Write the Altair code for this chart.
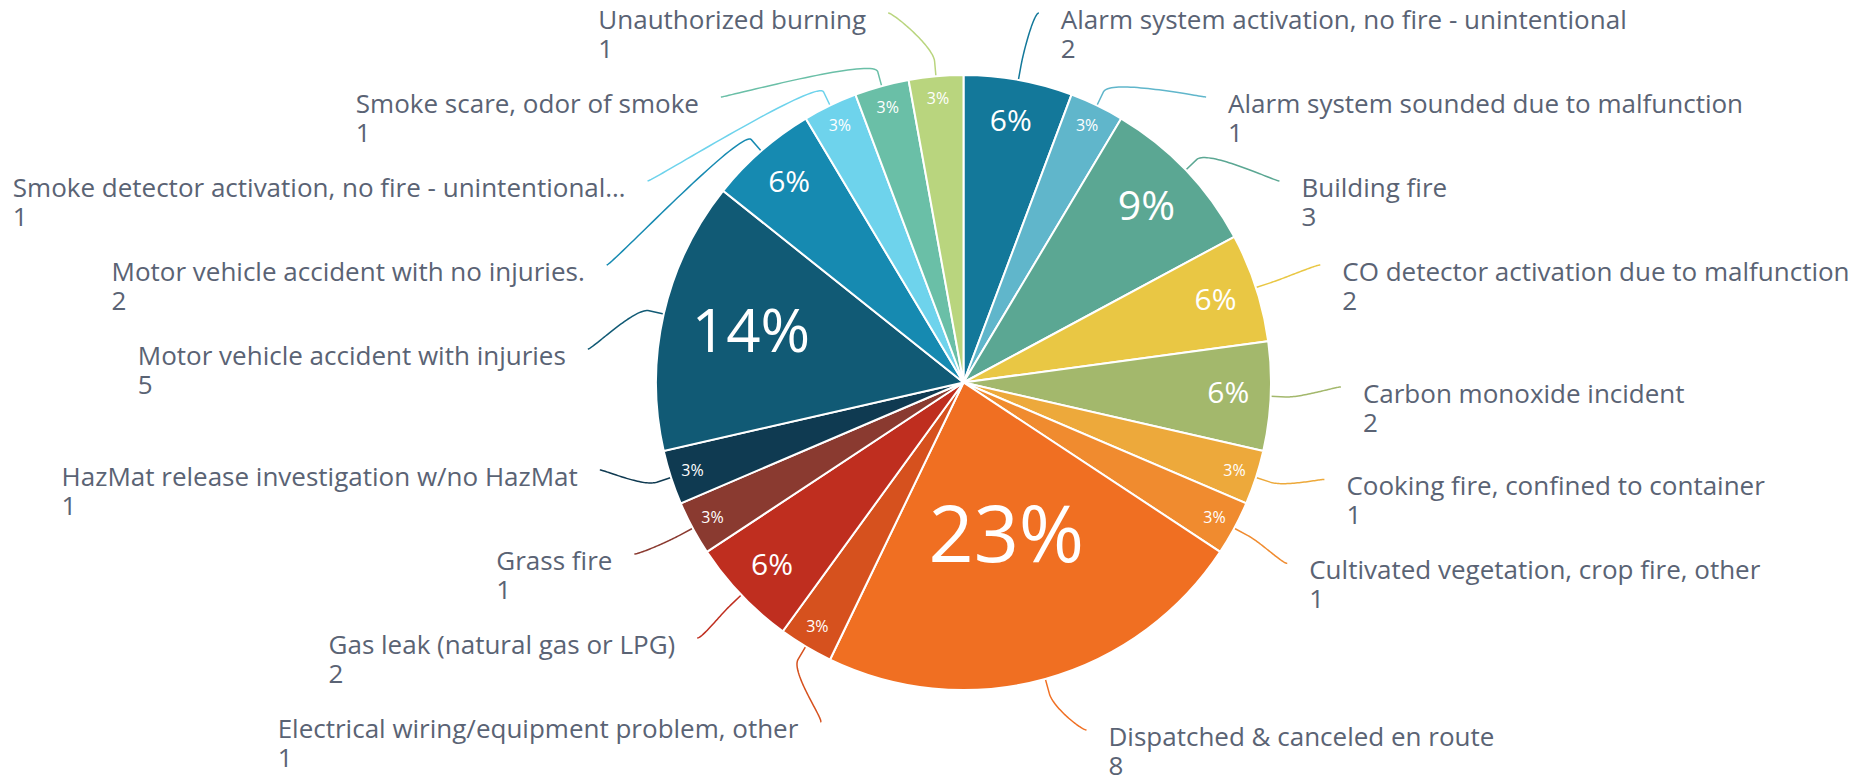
import math
import struct
import subprocess

import altair as alt
import pandas as pd

# ---------------- data ----------------
names = [
    "Alarm system activation, no fire - unintentional",
    "Alarm system sounded due to malfunction",
    "Building fire",
    "CO detector activation due to malfunction",
    "Carbon monoxide incident",
    "Cooking fire, confined to container",
    "Cultivated vegetation, crop fire, other",
    "Dispatched & canceled en route",
    "Electrical wiring/equipment problem, other",
    "Gas leak (natural gas or LPG)",
    "Grass fire",
    "HazMat release investigation w/no HazMat",
    "Motor vehicle accident with injuries",
    "Motor vehicle accident with no injuries.",
    "Smoke detector activation, no fire - unintentional\u2026",
    "Smoke scare, odor of smoke",
    "Unauthorized burning",
]
counts = [2, 1, 3, 2, 2, 1, 1, 8, 1, 2, 1, 1, 5, 2, 1, 1, 1]
colors = [
    "#13789a", "#60b6cb", "#5ba793", "#e9c744", "#a3b86c", "#eda93b",
    "#f08b2f", "#f06f22", "#d6511e", "#bf2e1f", "#8a3a30", "#0f3a51",
    "#115a75", "#168ab1", "#6ed3ec", "#6abfa7", "#b9d57e",
]

# ---------------- layout / style ----------------
W, H = 1859, 767
CX, CY = 955.5, 374.5
R = 307.5
LABEL_R = 388.0
BOX = 84
LO, HI = -16, 785
FONT = "Open Sans"
FONT_SIZE = 26
TEXT_COLOR = "#5a6374"


def _fallback_measure():
    table = {" ": 532, ",": 502, "-": 659, ".": 545, "/": 752, "&": 1499, "(": 573, ")": 573,
             "\u2026": 1636}
    up = dict(zip("ABCDEFGHIJKLMNOPQRSTUVWXYZ",
                  [1296, 1327, 1292, 1493, 1139, 1057, 1491, 1511, 571, 547, 1257, 1063, 1849,
                   1544, 1595, 1233, 1595, 1266, 1124, 1133, 1491, 1219, 1896, 1182, 1147, 1169]))
    lo = dict(zip("abcdefghijklmnopqrstuvwxyz",
                  [1139, 1255, 975, 1255, 1149, 694, 1122, 1257, 518, 518, 1075, 518, 1905,
                   1257, 1237, 1255, 1255, 836, 977, 723, 1257, 1026, 1593, 1073, 1028, 977]))
    table.update(up)
    table.update(lo)
    return lambda s: sum(table.get(ch, 1171) for ch in s) / 2048 * FONT_SIZE


def _ttf_measure(path):
    data = open(path, "rb").read()
    u16 = lambda o: struct.unpack(">H", data[o:o + 2])[0]
    u32 = lambda o: struct.unpack(">I", data[o:o + 4])[0]
    ntab = u16(4)
    tabs = {}
    for i in range(ntab):
        o = 12 + 16 * i
        tabs[data[o:o + 4].decode("latin1")] = u32(o + 8)
    upem = u16(tabs["head"] + 18)
    nhm = u16(tabs["hhea"] + 34)
    hmtx = tabs["hmtx"]
    cmap = tabs["cmap"]
    nsub = u16(cmap + 2)
    sub4 = sub12 = None
    for i in range(nsub):
        o = cmap + 4 + 8 * i
        pid, eid, off = u16(o), u16(o + 2), u32(o + 4)
        fmt = u16(cmap + off)
        if fmt == 12:
            sub12 = cmap + off
        elif fmt == 4 and pid in (0, 3):
            sub4 = cmap + off

    def gid(c):
        if sub12 is not None:
            n = u32(sub12 + 12)
            for k in range(n):
                o = sub12 + 16 + 12 * k
                s, e, g = u32(o), u32(o + 4), u32(o + 8)
                if s <= c <= e:
                    return g + c - s
            return 0
        off = sub4
        segx2 = u16(off + 6)
        ends = off + 14
        starts = ends + segx2 + 2
        deltas = starts + segx2
        ranges = deltas + segx2
        for k in range(segx2 // 2):
            e = u16(ends + 2 * k)
            if c <= e:
                s = u16(starts + 2 * k)
                if c < s:
                    return 0
                d = u16(deltas + 2 * k)
                ro = u16(ranges + 2 * k)
                if ro == 0:
                    return (c + d) & 0xFFFF
                g = u16(ranges + 2 * k + ro + 2 * (c - s))
                return (g + d) & 0xFFFF if g else 0
        return 0

    def adv(g):
        g = min(g, nhm - 1)
        return u16(hmtx + 4 * g)

    return lambda s: sum(adv(gid(ord(ch))) for ch in s) / upem * FONT_SIZE


def make_measure():
    path = ""
    try:
        path = subprocess.run(["fc-match", "-f", "%{file}", "Open Sans:style=Regular"],
                              capture_output=True, text=True, timeout=10).stdout.strip()
    except Exception:
        path = ""
    if path:
        try:
            from PIL import ImageFont
            f = ImageFont.truetype(path, FONT_SIZE)
            return f.getlength
        except Exception:
            pass
        try:
            m = _ttf_measure(path)
            m("Test")
            return m
        except Exception:
            pass
    return _fallback_measure()


measure = make_measure()


def distribute(items):
    groups = [{"keys": [k], "targets": [t], "size": BOX} for k, t in items]

    def place(g):
        t = (min(g["targets"]) + max(g["targets"])) / 2
        g["pos"] = min(max(t - g["size"] / 2, LO), HI - g["size"])

    for g in groups:
        place(g)
    changed = True
    while changed:
        changed = False
        i = len(groups) - 1
        while i > 0:
            a, b = groups[i - 1], groups[i]
            if a["pos"] + a["size"] > b["pos"] + 1e-9:
                a["keys"] += b["keys"]
                a["targets"] += b["targets"]
                a["size"] += b["size"]
                groups.pop(i)
                place(a)
                changed = True
            i -= 1
    out = {}
    for g in groups:
        for j, k in enumerate(g["keys"]):
            out[k] = g["pos"] + BOX * (j + 0.5)
    return out


total = sum(counts)
info = []
cum = 0.0
for i, (n, c) in enumerate(zip(names, counts)):
    a = (cum + c / 2) / total * 2 * math.pi
    cum += c
    info.append({"idx": i, "name": n, "count": c, "ang": a,
                 "right": a < math.pi, "target": CY + 8 - LABEL_R * math.cos(a)})

ycs = {}
for side in (True, False):
    items = sorted([(d["idx"], d["target"]) for d in info if d["right"] == side],
                   key=lambda t: t[1])
    ycs.update(distribute(items))

lab_rows, conn_rows = [], []
for d in info:
    yc = ycs[d["idx"]]
    yx = yc - 30 if yc < CY else yc - 4
    dx = math.sqrt(max(LABEL_R ** 2 - (yx - CY) ** 2, 0.0))
    if d["right"]:
        edge = CX + dx + 12
        tx = edge
        cx_, c1x = edge - 22, edge - 27
    else:
        edge = CX - dx - 12
        tx = edge - measure(d["name"])
        cx_, c1x = edge + 22, edge + 27
    cy_ = yc - 21
    lab_rows.append({"name": d["name"], "count": str(d["count"]), "tx": tx,
                     "ny": yc - 5, "cy2": yc + 24})
    s, co = math.sin(d["ang"]), math.cos(d["ang"])
    pts = [(CX + R * s, CY - R * co)]
    p0 = (CX + (R + 15) * s, CY - (R + 15) * co)
    p1 = (CX + (R + 30) * s, CY - (R + 30) * co)
    p2 = (c1x, cy_)
    p3 = (cx_, cy_)
    steps = 40
    for k in range(steps + 1):
        t = k / steps
        mt = 1 - t
        px = mt ** 3 * p0[0] + 3 * mt ** 2 * t * p1[0] + 3 * mt * t ** 2 * p2[0] + t ** 3 * p3[0]
        py = mt ** 3 * p0[1] + 3 * mt ** 2 * t * p1[1] + 3 * mt * t ** 2 * p2[1] + t ** 3 * p3[1]
        pts.append((px, py))
    for k, (px, py) in enumerate(pts):
        conn_rows.append({"name": d["name"], "seq": k, "px": px, "py": py})

df = pd.DataFrame({"idx": list(range(len(names))), "name": names, "count": counts})
labels = pd.DataFrame(lab_rows)
conns = pd.DataFrame(conn_rows)

color_scale = alt.Scale(domain=names, range=colors)
xs = alt.Scale(domain=[0, W], range=[0, W], nice=False, zero=False)
ys = alt.Scale(domain=[0, H], range=[0, H], nice=False, zero=False)

connectors = alt.Chart(conns).mark_line(strokeWidth=1.5).encode(
    x=alt.X("px:Q", scale=xs, axis=None),
    y=alt.Y("py:Q", scale=ys, axis=None),
    color=alt.Color("name:N", scale=color_scale, legend=None),
    detail="name:N",
    order=alt.Order("seq:Q"),
)

arcs = alt.Chart(df).mark_arc(outerRadius=R, stroke="white", strokeWidth=2).encode(
    x=alt.value(CX),
    y=alt.value(CY),
    theta=alt.Theta("count:Q", stack=True),
    color=alt.Color("name:N", scale=color_scale, legend=None),
    order=alt.Order("idx:Q"),
)

pct = alt.Chart(df).transform_joinaggregate(
    total="sum(count)"
).transform_window(
    cum="sum(count)", sort=[alt.SortField("idx", order="ascending")], frame=[None, 0]
).transform_calculate(
    mid="datum.cum - datum.count / 2",
    pct="format(datum.count / datum.total, '.0%')",
).mark_text(font=FONT, color="white", align="center", baseline="middle").encode(
    x=alt.value(CX),
    y=alt.value(CY),
    theta=alt.Theta("mid:Q", stack=False),
    radius=alt.Radius("count:Q", scale=alt.Scale(type="linear", zero=False,
                                                 domain=[1, 2, 3, 5, 8],
                                                 range=[285, 265, 253, 218, 161])),
    size=alt.Size("count:Q", scale=alt.Scale(domain=[1, 2, 3, 5, 8],
                                             range=[16, 30, 41, 60, 79]), legend=None),
    text="pct:N",
)

name_text = alt.Chart(labels).mark_text(
    align="left", baseline="alphabetic", font=FONT, fontSize=FONT_SIZE, color=TEXT_COLOR
).encode(
    x=alt.X("tx:Q", scale=xs, axis=None),
    y=alt.Y("ny:Q", scale=ys, axis=None),
    text="name:N",
)

count_text = alt.Chart(labels).mark_text(
    align="left", baseline="alphabetic", font=FONT, fontSize=FONT_SIZE, color=TEXT_COLOR
).encode(
    x=alt.X("tx:Q", scale=xs, axis=None),
    y=alt.Y("cy2:Q", scale=ys, axis=None),
    text="count:N",
)

chart = alt.layer(connectors, arcs, pct, name_text, count_text).properties(
    width=W, height=H, padding=0,
    autosize=alt.AutoSizeParams(type="none"),
    background="white",
).configure_view(stroke=None)

chart.save("out.html", embed_options={"renderer": "svg", "actions": False})
